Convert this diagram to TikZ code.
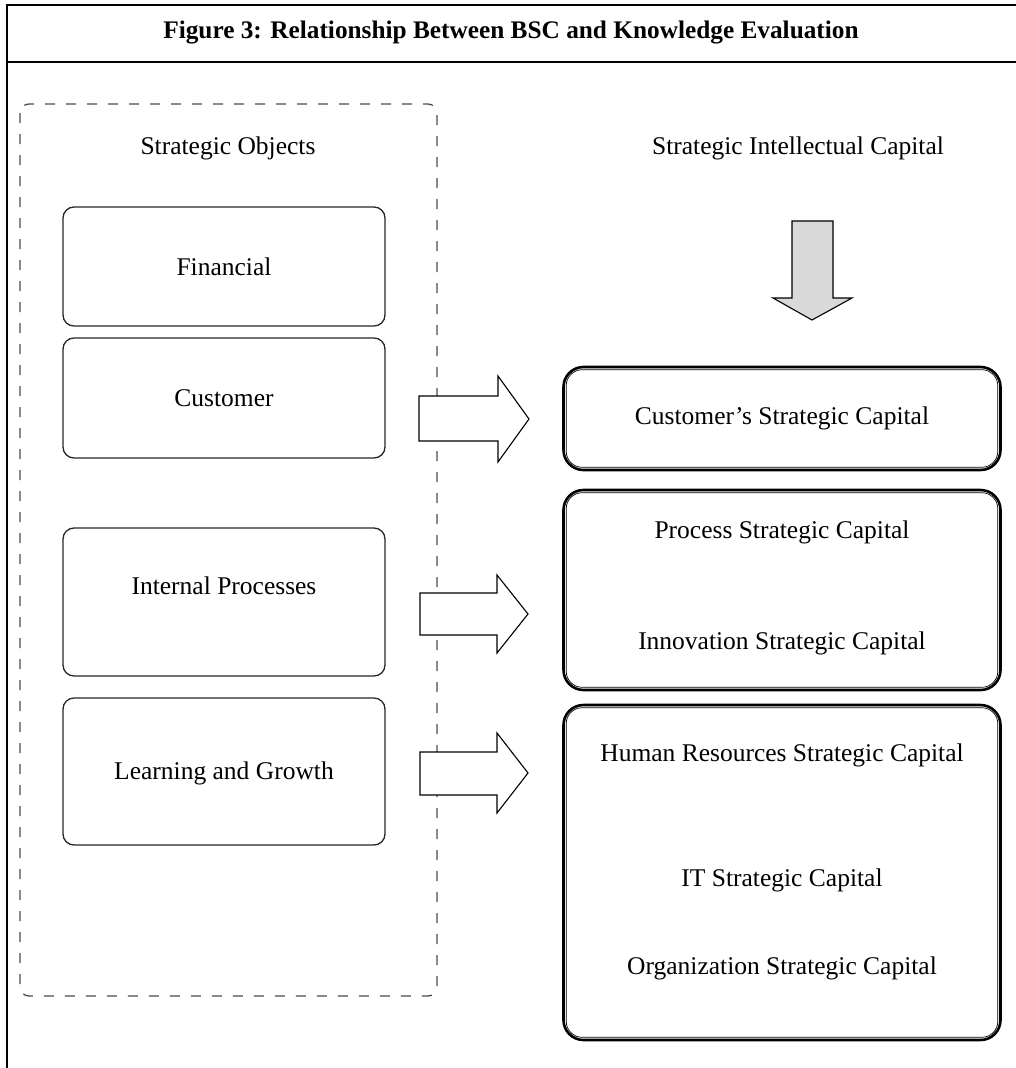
\documentclass[tikz,border=0pt]{standalone}
\usepackage{fontspec}
\setmainfont{Liberation Serif}
\begin{document}
\begin{tikzpicture}[x=1pt,y=-1pt,
  txt/.style={font=\fontsize{25.5}{30}\selectfont, inner sep=0pt},
  leftbox/.style={draw=black!85, line width=1.3pt, rounded corners=11pt, minimum width=322pt, inner sep=0pt},
  rightbox/.style={draw=black, line width=2.6pt, rounded corners=20pt, minimum width=437pt, inner sep=0pt},
  inner/.style={draw=black, line width=0.7pt, rounded corners=16pt},
  blockarrow/.style={draw=black, line width=1.1pt, fill=white, line join=miter},
  frame/.style={draw=black, line width=1.8pt}
]
\useasboundingbox (0,0) rectangle (1016,1068);
% frame
\draw[frame, line width=1.5pt] (7,1068) -- (7,5);
\draw[frame] (6.25,5) -- (1016,5);
\draw[frame] (7,62) -- (1016,62);
\node[font=\fontsize{25.3}{29}\selectfont\bfseries, inner sep=0pt] (title) at (511,33) {Figure 3: Relationship Between BSC and Knowledge Evaluation};

% dashed group
\draw[draw=black!70, line width=1.3pt, dash pattern=on 10pt off 11pt, rounded corners=9pt] (20,104) rectangle (437,996);
\node[txt] (so) at (228,148) {Strategic Objects};
\node[txt] (sic) at (798,148) {Strategic Intellectual Capital};

% left boxes
\node[leftbox, minimum height=119pt] (lb1) at (224,266.5) {};
\node[txt] (lb1t) at (lb1) {Financial};
\node[leftbox, minimum height=120pt] (lb2) at (224,398) {};
\node[txt] (lb2t) at (lb2) {Customer};
\node[leftbox, minimum height=148pt] (lb3) at (224,602) {};
\node[txt] (lb3t) at (224,586) {Internal Processes};
\node[leftbox, minimum height=147pt] (lb4) at (224,771.5) {};
\node[txt] (lb4t) at (224,773) {Learning and Growth};

% right boxes
\node[rightbox, minimum height=103pt] (rb1) at (782,418.5) {};
\node[rightbox, minimum height=200pt] (rb2) at (782,590) {};
\node[rightbox, minimum height=335pt] (rb3) at (782,872.5) {};
\foreach \b in {rb1,rb2,rb3}{
  \draw[inner] ([xshift=4pt,yshift=4pt]\b.south west) rectangle ([xshift=-4pt,yshift=-4pt]\b.north east);
}
\node[txt] (r1a) at (782,418) {Customer's Strategic Capital};
\node[txt] (r2a) at (782,532) {Process Strategic Capital};
\node[txt] (r2b) at (782,643) {Innovation Strategic Capital};
\node[txt] (r3a) at (782,755) {Human Resources Strategic Capital};
\node[txt] (r3b) at (782,880) {IT Strategic Capital};
\node[txt] (r3c) at (782,968) {Organization Strategic Capital};

% block arrows
\draw[blockarrow] (419,396) -- (498,396) -- (498,376) -- (529,419) -- (498,462) -- (498,441) -- (419,441) -- cycle;
\draw[blockarrow] (420,593) -- (497,593) -- (497,575) -- (528,614) -- (497,653) -- (497,635) -- (420,635) -- cycle;
\draw[blockarrow] (420,752) -- (497,752) -- (497,733) -- (528,773) -- (497,813) -- (497,795) -- (420,795) -- cycle;

% down arrow
\draw[blockarrow, fill=gray!30] (792,221) -- (833,221) -- (833,298) -- (852,298) -- (812,320) -- (773,298) -- (792,298) -- cycle;
\end{tikzpicture}
\end{document}
